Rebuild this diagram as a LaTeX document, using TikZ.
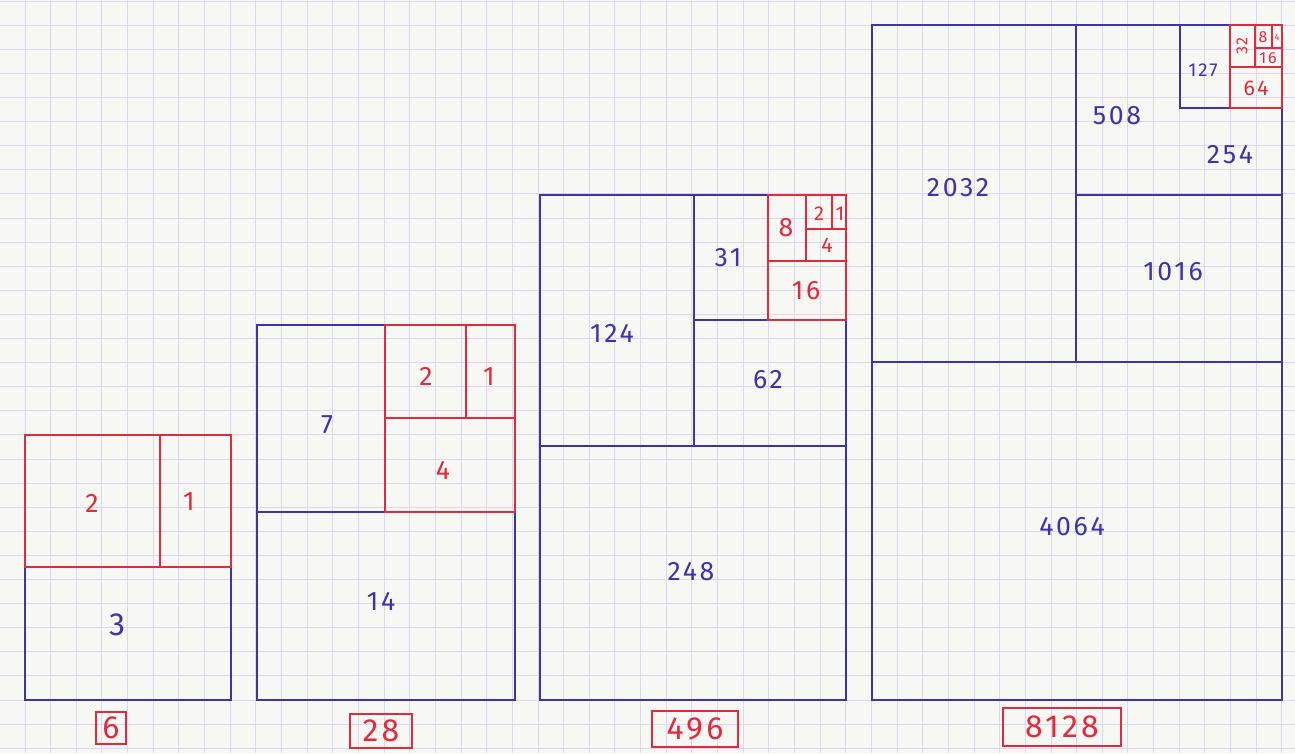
\documentclass[tikz,border=0pt]{standalone}
\usepackage{fontspec}
\setmainfont{Fira Sans}[LetterSpace=10]
\definecolor{inkblue}{RGB}{62,52,168}
\definecolor{inkred}{RGB}{226,42,62}
\definecolor{paper}{RGB}{247,247,244}
\definecolor{gridline}{RGB}{220,215,238}
\tikzset{
  bluepen/.style={draw=inkblue, line width=1.8pt, line cap=round},
  redpen/.style={draw=inkred, line width=1.8pt, line cap=round},
  bluenum/.style={text=inkblue, font=\fontsize{20}{22}\selectfont},
  rednum/.style={text=inkred, font=\fontsize{20}{22}\selectfont},
  smallnum/.style={font=\fontsize{12}{13}\selectfont, inner sep=0pt},
  totalbox/.style={draw=inkred, line width=1.5pt, text=inkred,
    font=\fontsize{24}{26}\selectfont, inner sep=1pt}
}
\begin{document}
\begin{tikzpicture}[x=0.75pt, y=-0.75pt]
    \useasboundingbox (0,0) rectangle (1295,753);
    % Paper
    \fill[paper] (0,0) rectangle (1295,753);
    \foreach \i in {0,...,50}
        \draw[gridline, line width=0.7pt] ({-0.65+25.65*\i},0) -- ++(0,753);
    \foreach \j in {0,...,31}
        \draw[gridline, line width=0.7pt] (0,{1.1+24.1*\j}) -- ++(1295,0);
    % 6 = 1 + 2 + 3
    \draw[bluepen] (25,567) rectangle (231,700);
    \draw[redpen] (25,435) rectangle (231,567) (160,435) -- (160,567);
    \node[rednum] (sixtwo) at (92,503) {2};
    \node[rednum] (sixone) at (189,502) {1};
    \node[bluenum, font=\fontsize{24}{26}\selectfont] (sixthree) at (117,625) {3};
    \node[totalbox, minimum width=23pt, minimum height=24pt] (six) at (111,728) {6};
    % 28
    \draw[bluepen] (257,325) rectangle (515,700) (257,512) -- (385,512);
    \draw[redpen] (385,325) rectangle (515,512) (385,418) -- (515,418) (466,325) -- (466,418);
    \node[bluenum] (twentyeightseven) at (327,425) {7};
    \node[rednum] (twentyeighttwo) at (426,376) {2};
    \node[rednum] (twentyeightone) at (489,377) {1};
    \node[rednum] (twentyeightfour) at (443,470) {4};
    \node[bluenum] (twentyeightfourteen) at (381,601) {14};
    \node[totalbox, minimum width=46pt, minimum height=25pt] (twentyeight) at (381,731) {28};
    % 496
    \draw[bluepen] (540,195) rectangle (846,700) (540,446) -- (846,446)
        (694,195) -- (694,446) (694,320) -- (768,320);
    \draw[redpen] (768,195) rectangle (846,320) (768,261) -- (846,261)
        (806,195) -- (806,261) (806,229) -- (846,229) (832,195) -- (832,229);
    \node[bluenum] (ninesixa) at (612,333) {124};
    \node[bluenum] (ninesixb) at (728,258) {31};
    \node[bluenum] (ninesixc) at (768,380) {62};
    \node[bluenum] (ninesixd) at (691,572) {248};
    \node[rednum] (ninesixe) at (786,228) {8};
    \node[rednum, font=\fontsize{15}{16}\selectfont] (ninesixf) at (819,214) {2};
    \node[rednum, font=\fontsize{15}{16}\selectfont] (ninesixg) at (840,214) {1};
    \node[rednum, font=\fontsize{16}{17}\selectfont] (ninesixh) at (827,245) {4};
    \node[rednum] (ninesixi) at (806,291) {16};
    \node[totalbox, minimum width=65pt, minimum height=27pt] (fourninesix) at (695,729) {496};
    % 8128
    \draw[bluepen] (872,25) rectangle (1282,700) (872,362) -- (1282,362)
        (1076,25) -- (1076,362) (1076,195) -- (1282,195) (1180,25) -- (1180,108) -- (1282,108);
    \draw[redpen] (1230,25) rectangle (1282,108) (1230,67) -- (1282,67)
        (1255,25) -- (1255,67) (1255,48) -- (1282,48) (1272,25) -- (1272,48);
    \node[bluenum] (eightoneA) at (958,188) {2032};
    \node[bluenum] (eightoneB) at (1117,116) {508};
    \node[bluenum, smallnum, font=\fontsize{14}{15}\selectfont] (eightoneC) at (1203,70) {127};
    \node[bluenum] (eightoneD) at (1230,155) {254};
    \node[bluenum] (eightoneE) at (1173,272) {1016};
    \node[bluenum] (eightoneF) at (1072,527) {4064};
    \node[rednum, smallnum, rotate=90] (eightoneG) at (1242,46) {32};
    \node[rednum, smallnum] (eightoneH) at (1263,37) {8};
    \node[rednum, smallnum, font=\fontsize{7}{8}\selectfont] (eightoneI) at (1277,37) {4};
    \node[rednum, smallnum] (eightoneJ) at (1268,58) {16};
    \node[rednum, font=\fontsize{16}{17}\selectfont] (eightoneK) at (1256,88) {64};
    \node[totalbox, minimum width=89pt, minimum height=28pt] (eightonetwoeight) at (1062,727) {8128};
\end{tikzpicture}
\end{document}
